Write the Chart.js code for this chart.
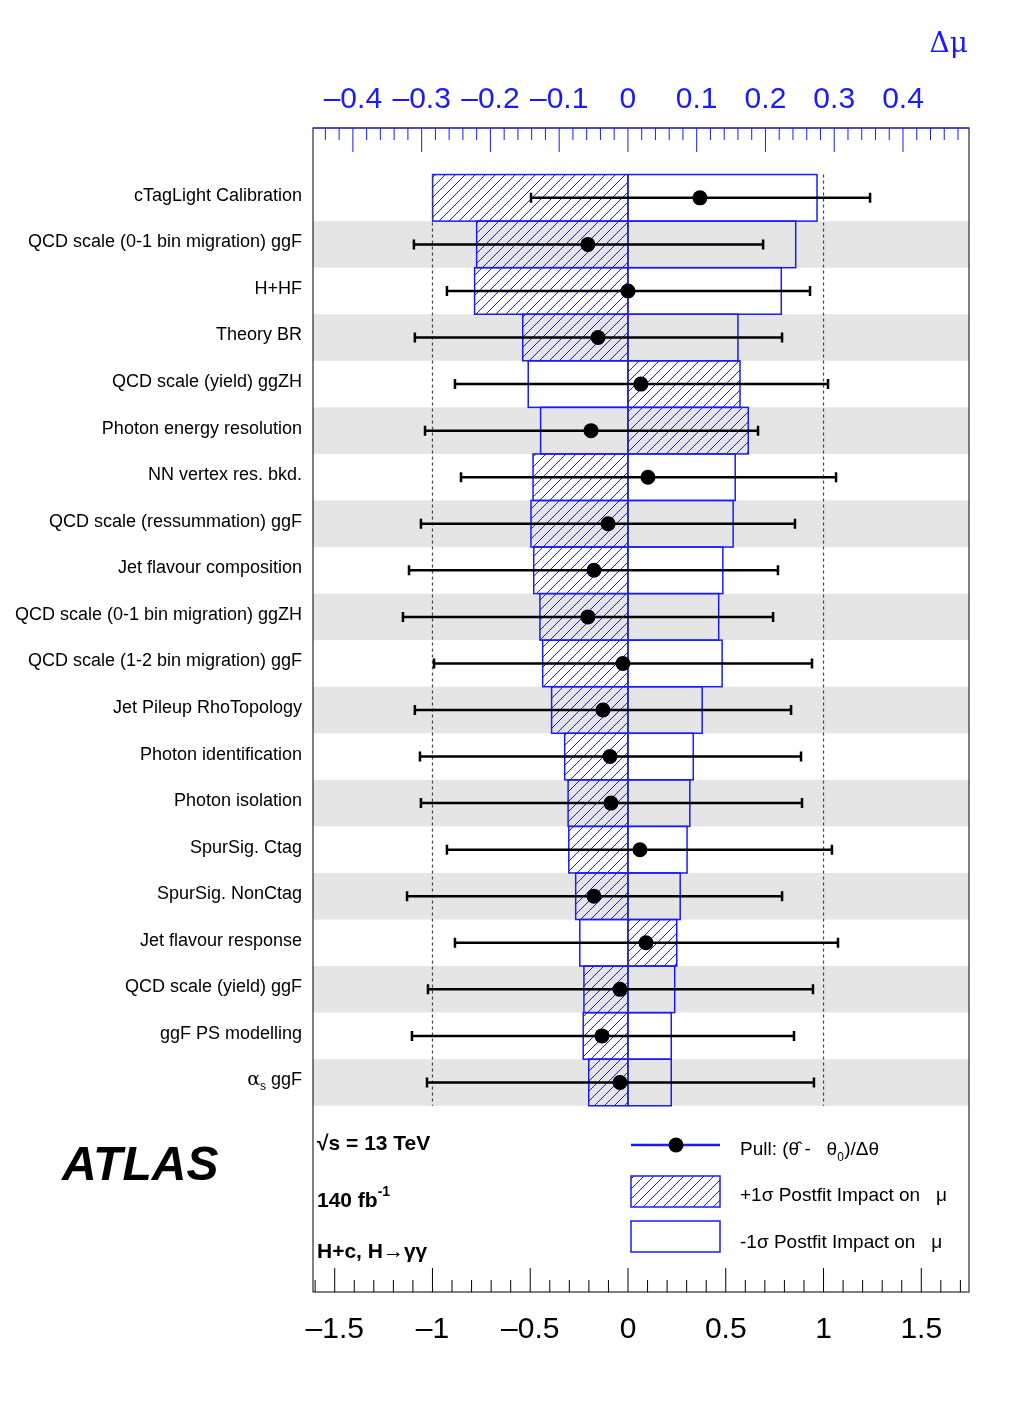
<!DOCTYPE html>
<html><head><meta charset="utf-8">
<script src="https://cdn.jsdelivr.net/npm/chart.js@4/dist/chart.umd.min.js"></script>
<style>body{margin:0;background:#fff}canvas{display:block}</style></head>
<body><canvas id="c" width="1020" height="1420"></canvas>
<script>
const categories=["cTagLight Calibration","QCD scale (0-1 bin migration) ggF","H+HF","Theory BR","QCD scale (yield) ggZH","Photon energy resolution","NN vertex res. bkd.","QCD scale (ressummation) ggF","Jet flavour composition","QCD scale (0-1 bin migration) ggZH","QCD scale (1-2 bin migration) ggF","Jet Pileup RhoTopology","Photon identification","Photon isolation","SpurSig. Ctag","SpurSig. NonCtag","Jet flavour response","QCD scale (yield) ggF","ggF PS modelling","ALPHAS"];
const impactPlus=[-0.284,-0.220,-0.223,-0.153,0.163,0.175,-0.138,-0.141,-0.137,-0.128,-0.124,-0.111,-0.092,-0.087,-0.086,-0.076,0.071,-0.064,-0.065,-0.057];
const impactMinus=[0.275,0.244,0.223,0.160,-0.145,-0.127,0.156,0.153,0.138,0.132,0.137,0.108,0.095,0.090,0.086,0.076,-0.070,0.068,0.063,0.063];
const pulls=[0.368,-0.205,0,-0.153,0.066,-0.189,0.102,-0.102,-0.174,-0.205,-0.026,-0.128,-0.092,-0.087,0.061,-0.174,0.092,-0.041,-0.133,-0.041];
const pullLow=[-0.496,-1.095,-0.926,-1.090,-0.885,-1.038,-0.854,-1.059,-1.120,-1.151,-0.992,-1.090,-1.064,-1.059,-0.926,-1.130,-0.885,-1.023,-1.105,-1.028];
const pullHigh=[1.238,0.691,0.931,0.788,1.023,0.665,1.064,0.854,0.767,0.742,0.941,0.834,0.885,0.890,1.043,0.788,1.074,0.946,0.849,0.951];
const pullTicks=[-1.5,-1,-0.5,0,0.5,1,1.5];
const muTicks=[-0.4,-0.3,-0.2,-0.1,0,0.1,0.2,0.3,0.4];
const BLUE='#1a1aff';
function fmt(v){const s=(Math.abs(v)<1e-9?'0':String(v));return s.replace('-','\u2013');}
function hatch(ctx){const p=document.createElement('canvas');p.width=p.height=10;const g=p.getContext('2d');g.strokeStyle=BLUE;g.lineWidth=1;
g.beginPath();g.moveTo(0,10);g.lineTo(10,0);g.moveTo(-5,5);g.lineTo(5,-5);g.moveTo(5,15);g.lineTo(15,5);g.stroke();return ctx.createPattern(p,'repeat');}
const draw={id:'draw',afterDatasetsDraw(ch){
 const c=ch.ctx,x=ch.scales.x,x2=ch.scales.x2,y=ch.scales.y,a=ch.chartArea;
 const rowTop=i=>y.getPixelForValue(24-i),rowBot=i=>y.getPixelForValue(23-i),rowMid=i=>y.getPixelForValue(23.5-i);
 c.save();
 // bands
 c.fillStyle='#e5e5e5';
 for(let i=1;i<20;i+=2)c.fillRect(a.left,rowTop(i),a.right-a.left,rowBot(i)-rowTop(i));
 // boxes
 const pat=hatch(c);
 for(let i=0;i<20;i++){
  const t=rowTop(i),b=rowBot(i),z=x2.getPixelForValue(0);
  let p=x2.getPixelForValue(impactPlus[i]),m=x2.getPixelForValue(impactMinus[i]);
  c.fillStyle=pat;c.fillRect(Math.min(z,p),t,Math.abs(p-z),b-t);
  c.strokeStyle=BLUE;c.lineWidth=1.5;
  c.strokeRect(Math.min(z,p),t,Math.abs(p-z),b-t);
  c.strokeRect(Math.min(z,m),t,Math.abs(m-z),b-t);
 }
 // dotted lines
 c.setLineDash([3,3]);c.strokeStyle='#444';c.lineWidth=1.2;
 [-1,0,1].forEach(v=>{const px=x.getPixelForValue(v);c.beginPath();c.moveTo(px,rowTop(0));c.lineTo(px,rowBot(19));c.stroke();});
 c.setLineDash([]);
 // pulls
 c.strokeStyle='#000';c.fillStyle='#000';c.lineWidth=2.5;
 for(let i=0;i<20;i++){const yy=rowMid(i),l=x.getPixelForValue(pullLow[i]),h=x.getPixelForValue(pullHigh[i]);
  c.beginPath();c.moveTo(l,yy);c.lineTo(h,yy);c.moveTo(l,yy-5);c.lineTo(l,yy+5);c.moveTo(h,yy-5);c.lineTo(h,yy+5);c.stroke();
  c.beginPath();c.arc(x.getPixelForValue(pulls[i]),yy,7.5,0,7);c.fill();}
 // labels
 c.font='18px "Liberation Sans",Arial';c.textAlign='right';c.textBaseline='middle';c.fillStyle='#000';
 for(let i=0;i<20;i++){const yy=rowMid(i)-2;
  if(categories[i]==='ALPHAS'){c.fillText('ggF',302,yy);const w=c.measureText(' ggF').width;c.font='12px "Liberation Sans"';c.fillText('s',302-w,yy+6);const ws=c.measureText('s').width;c.font='19px "DejaVu Serif"';c.fillText('\u03b1',302-w-ws,yy);c.font='18px "Liberation Sans",Arial';}
  else c.fillText(categories[i],302,yy);}
 // frame
 c.strokeStyle='#000';c.lineWidth=1;c.strokeRect(a.left,a.top,a.right-a.left,a.bottom-a.top);
 // bottom ticks
 c.beginPath();
 for(let k=-16;k<=17;k++){const v=k/10,px=x.getPixelForValue(v);if(px<a.left||px>a.right)continue;const L=(k%5===0)?24:12;c.moveTo(px,a.bottom);c.lineTo(px,a.bottom-L);}
 c.stroke();
 c.font='30px "Liberation Sans",Arial';c.textAlign='center';c.textBaseline='alphabetic';
 pullTicks.forEach(v=>c.fillText(fmt(v),x.getPixelForValue(v),1338));
 // top ticks
 c.strokeStyle=BLUE;c.beginPath();c.moveTo(a.left,a.top);c.lineTo(a.right,a.top);
 for(let k=-23;k<=25;k++){const v=k/50,px=x2.getPixelForValue(v);if(px<a.left||px>a.right)continue;const L=(k%5===0)?24:12;c.moveTo(px,a.top);c.lineTo(px,a.top+L);}
 c.stroke();
 c.fillStyle=BLUE;muTicks.forEach(v=>c.fillText(fmt(v),x2.getPixelForValue(v),108));
 c.font='28px "DejaVu Serif"';c.textAlign='right';c.fillText('\u0394\u03bc',968,52);
 // ATLAS & text
 c.fillStyle='#000';c.textAlign='left';c.font='italic bold 48px "Liberation Sans",Arial';c.fillText('ATLAS',62,1180);
 c.font='bold 21px "Liberation Sans",Arial';
 c.fillText('\u221as = 13 TeV',317,1150);
 c.fillText('140 fb',317,1207);let w=c.measureText('140 fb').width;c.font='bold 14px "Liberation Sans"';c.fillText('-1',317+w,1196);
 c.font='bold 21px "Liberation Sans",Arial';c.fillText('H+c, H\u2192\u03b3\u03b3',317,1258);
 // legend
 c.lineWidth=2.5;c.beginPath();c.moveTo(631,1145);c.lineTo(720,1145);c.stroke();c.beginPath();c.arc(676,1145,7.5,0,7);c.fill();
 c.fillStyle=pat;c.fillRect(631,1176,89,31);c.strokeStyle=BLUE;c.lineWidth=1.5;c.strokeRect(631,1176,89,31);c.strokeRect(631,1221,89,31);
 c.fillStyle='#000';c.font='19px "Liberation Sans",Arial';
 c.fillText('Pull: (\u03b8\u0302 -   \u03b8',740,1155);w=c.measureText('Pull: (\u03b8\u0302 -   \u03b8').width;c.font='12px "Liberation Sans"';c.fillText('0',740+w,1161);c.font='19px "Liberation Sans",Arial';c.fillText(')/\u0394\u03b8',747+w,1155);
 c.fillText('+1\u03c3 Postfit Impact on   \u03bc',740,1201);
 c.fillText('-1\u03c3 Postfit Impact on   \u03bc',740,1248);
 c.restore();}};
new Chart(document.getElementById('c'),{type:'scatter',data:{datasets:[{data:[]}]},
 options:{responsive:false,animation:false,layout:{padding:{left:313,right:51,top:128,bottom:128}},
 plugins:{legend:{display:false},tooltip:{enabled:false}},
 scales:{x:{type:'linear',min:-1.611,max:1.744,display:false},x2:{type:'linear',min:-0.458,max:0.496,display:false},y:{type:'linear',min:0,max:25,display:false}}},
 plugins:[draw]});
</script></body></html>
